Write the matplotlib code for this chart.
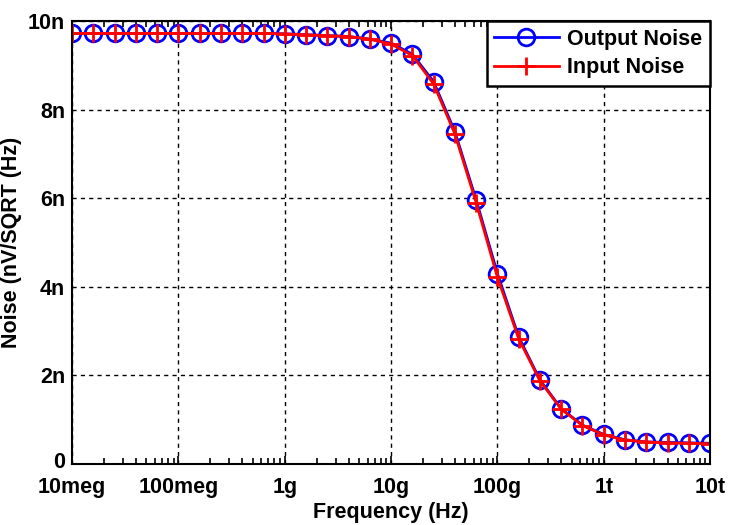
import numpy as np
import matplotlib.pyplot as plt
import matplotlib.transforms as mtransforms
from matplotlib.ticker import FixedLocator, LogLocator, NullFormatter

plt.rcParams['font.family'] = ['Liberation Sans', 'DejaVu Sans']
plt.rcParams['font.weight'] = 'bold'

# frequency sweep, 5 points per decade from 10 MHz to 10 THz
freq = [1e7, 1.585e7, 2.512e7, 3.981e7, 6.310e7,
        1e8, 1.585e8, 2.512e8, 3.981e8, 6.310e8,
        1e9, 1.585e9, 2.512e9, 3.981e9, 6.310e9,
        1e10, 1.585e10, 2.512e10, 3.981e10, 6.310e10,
        1e11, 1.585e11, 2.512e11, 3.981e11, 6.310e11,
        1e12, 1.585e12, 2.512e12, 3.981e12, 6.310e12, 1e13]

# noise in nV/sqrt(Hz)
out_noise = [9.72, 9.72, 9.72, 9.72, 9.72,
             9.72, 9.72, 9.72, 9.72, 9.72,
             9.71, 9.69, 9.67, 9.65, 9.59,
             9.50, 9.25, 8.63, 7.50, 5.96,
             4.30, 2.87, 1.90, 1.25, 0.88,
             0.67, 0.55, 0.50, 0.49, 0.48, 0.47]
in_noise = [9.72, 9.72, 9.72, 9.72, 9.72,
            9.72, 9.72, 9.72, 9.72, 9.72,
            9.71, 9.69, 9.67, 9.65, 9.59,
            9.48, 9.22, 8.58, 7.45, 5.90,
            4.22, 2.83, 1.88, 1.24, 0.87,
            0.66, 0.54, 0.50, 0.48, 0.47, 0.46]

xticks = [1e7, 1e8, 1e9, 1e10, 1e11, 1e12, 1e13]
xlabels = ['10meg', '100meg', '1g', '10g', '100g', '1t', '10t']
yticks = [0, 2, 4, 6, 8, 10]
ylabels = ['0', '2n', '4n', '6n', '8n', '10n']

fig = plt.figure(figsize=(7.29, 5.25), dpi=100)
ax = fig.add_axes([0.099, 0.116, 0.875, 0.844])

ax.plot(freq, out_noise, color='blue', linewidth=2, marker='o',
        markersize=12, markerfacecolor='none', markeredgewidth=2,
        label='Output Noise')
ax.plot(freq, in_noise, color='red', linewidth=2, marker='+',
        markersize=13, markeredgewidth=2, label='Input Noise')

ax.set_xscale('log')
ax.set_xlim(1e7, 1e13)
ax.set_ylim(0, 10)
ax.xaxis.set_major_locator(FixedLocator(xticks))
ax.set_xticklabels(xlabels)
ax.xaxis.set_minor_locator(LogLocator(base=10, subs=np.arange(2, 10), numticks=20))
ax.xaxis.set_minor_formatter(NullFormatter())
ax.set_yticks(yticks)
ax.set_yticklabels(ylabels)

ax.tick_params(which='both', direction='in', top=True, right=True,
               labelsize=15.5, width=1.2)
ax.tick_params(axis='x', which='major', length=6, pad=9)
ax.tick_params(axis='y', which='major', length=0, pad=5)
ax.tick_params(which='minor', length=4)
for s in ax.spines.values():
    s.set_linewidth(1.5)

# nudge the "0" label up a few points so it clears "10meg"
zero_lbl = ax.get_yticklabels()[0]
zero_lbl.set_transform(zero_lbl.get_transform() +
                       mtransforms.ScaledTranslation(0, 3 / 72, fig.dpi_scale_trans))

ax.grid(True, which='major', color='black', linestyle=(0, (3, 3)), linewidth=1.0)

ax.set_xlabel('Frequency (Hz)', fontsize=15.5, fontweight='bold', labelpad=3)
ax.set_ylabel('Noise (nV/SQRT (Hz)', fontsize=15.5, fontweight='bold', labelpad=4)

leg = ax.legend(loc='upper right', fontsize=15.5, handlelength=3,
                fancybox=False, framealpha=1, edgecolor='black',
                borderaxespad=0, borderpad=0.35, labelspacing=0.35,
                handletextpad=0.4)
leg.get_frame().set_linewidth(1.8)

fig.savefig('out.png', dpi=100)
